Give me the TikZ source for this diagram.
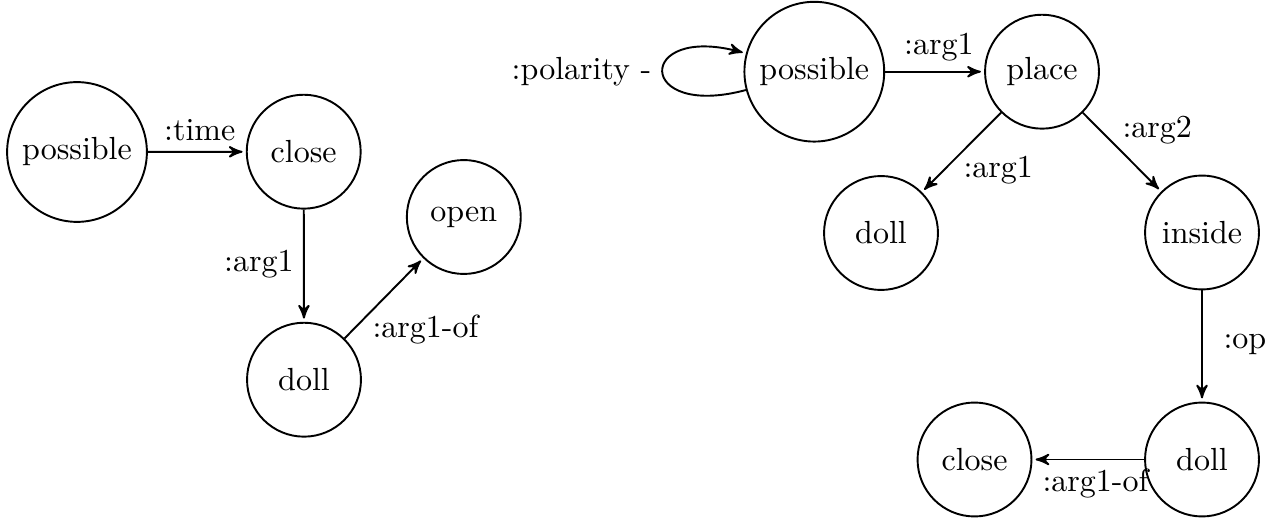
\documentclass[tikz,border=0pt]{standalone}
\usetikzlibrary{arrows}
\begin{document}
\begin{tikzpicture}[x=0.3125pt,y=-0.3125pt,
  st/.style={circle,draw,semithick,minimum size=35.6pt},
  lbl/.style={anchor=base west,inner sep=0pt,outer sep=0pt},
  arr/.style={->,>=stealth',semithick,shorten >=1pt}]
\useasboundingbox (0,0) rectangle (1279,520);
% left graph
\node[st] (lposs)  at (77,152)     {possible};
\node[st] (lclose) at (303.7,151.7) {close};
\node[st] (lopen)  at (463.8,217)  {open};
\node[st] (ldoll)  at (304,379.7)  {doll};
\draw[arr] (lposs) -- (lclose);
\draw[arr] (lclose) -- (ldoll);
\draw[arr] (ldoll) -- (lopen);
\node[lbl] (t1) at (164.2,141) {:time};
\node[lbl] (t2) at (224.2,272) {:arg1};
\node[lbl] (t3) at (372.5,337.5) {:arg1-of};
% right graph
\node[st] (rposs)   at (814.3,71.7) {possible};
\node[st] (rplace)  at (1042,71.7)  {place};
\node[st] (rdoll)   at (881,233)    {doll};
\node[st] (rinside) at (1202,232.5) {inside};
\node[st] (rdoll2)  at (1202,459.5) {doll};
\node[st] (rclose)  at (974.5,459.5) {close};
\path (rposs) edge[arr,loop left] node[left] (pol) {:polarity -} ();
\draw[arr] (rposs) -- (rplace);
\draw[arr] (rplace) -- (rdoll);
\draw[arr] (rplace) -- (rinside);
\draw[arr] (rinside) -- (rdoll2);
\draw[arr] (rdoll2) -- (rclose);
\node[lbl] (t4) at (904.2,55) {:arg1};
\node[lbl] (t5) at (963.5,178) {:arg1};
\node[lbl] (t6) at (1122.5,138) {:arg2};
\node[lbl] (t7) at (1223.5,349) {:op};
\node[lbl] (t8) at (1042.5,491.7) {:arg1-of};
\end{tikzpicture}
\end{document}
